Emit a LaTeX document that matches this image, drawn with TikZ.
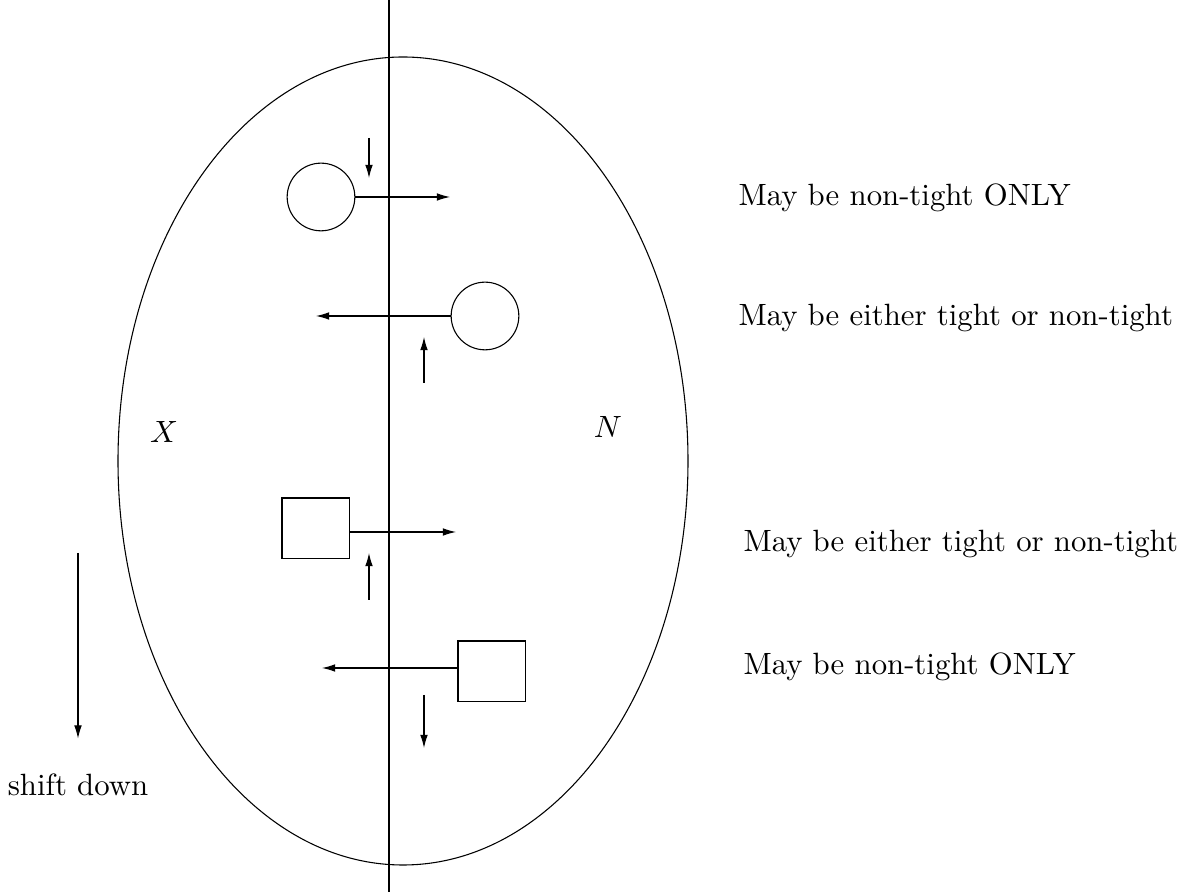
\documentclass[tikz,border=0pt]{standalone}
\usetikzlibrary{arrows.meta}
\begin{document}
\begin{tikzpicture}[x=0.325pt,y=-0.325pt,
  every path/.style={line width=0.35pt},
  arr/.style={-{Latex[length=4.3pt,width=2.5pt]}},
  circ/.style={draw,circle,inner sep=0pt,minimum size=22pt},
  sq/.style={draw,rectangle,inner sep=0pt,minimum width=21.8pt,minimum height=19.8pt},
  lbl/.style={anchor=west,inner sep=0pt}]
\useasboundingbox (0,0) rectangle (1189,892);
\coordinate (ltop) at (389,0);
\coordinate (lbot) at (389,892);
\draw (ltop) -- (lbot);
\draw (403,461) ellipse [x radius=285, y radius=404];
% first circle
\node[circ] (c1) at (321,197) {};
\coordinate (c1e) at (450,197);
\draw[arr] (c1.east) -- (c1e);
\coordinate (d1s) at (369,138);
\coordinate (d1e) at (369,178);
\draw[arr] (d1s) -- (d1e);
% second circle
\node[circ] (c2) at (485,316) {};
\coordinate (c2e) at (316,316);
\draw[arr] (c2.west) -- (c2e);
\coordinate (u1s) at (424,383);
\coordinate (u1e) at (424,337);
\draw[arr] (u1s) -- (u1e);
% first square
\node[sq] (s1) at (315.5,528.5) {};
\coordinate (s1e) at (456,532);
\draw[arr] (s1.east |- s1e) -- (s1e);
\coordinate (u2s) at (369,600);
\coordinate (u2e) at (369,553);
\draw[arr] (u2s) -- (u2e);
% second square
\node[sq] (s2) at (491.5,671.5) {};
\coordinate (s2e) at (322,668);
\draw[arr] (s2.west |- s2e) -- (s2e);
\coordinate (d2s) at (424,695);
\coordinate (d2e) at (424,748);
\draw[arr] (d2s) -- (d2e);
% labels
\node (X) at (164,432) {$X$};
\node (N) at (608,427) {$N$};
\coordinate (shs) at (78,553);
\node (sh) at (78,785) {shift down};
\draw[arr] (shs) -- ([yshift=8pt]sh.north);
\node[lbl] (t1) at (738,198) {May be non-tight ONLY};
\node[lbl] (t2) at (738,318) {May be either tight or non-tight};
\node[lbl] (t3) at (743,544) {May be either tight or non-tight};
\node[lbl] (t4) at (743,667) {May be non-tight ONLY};
\end{tikzpicture}
\end{document}
